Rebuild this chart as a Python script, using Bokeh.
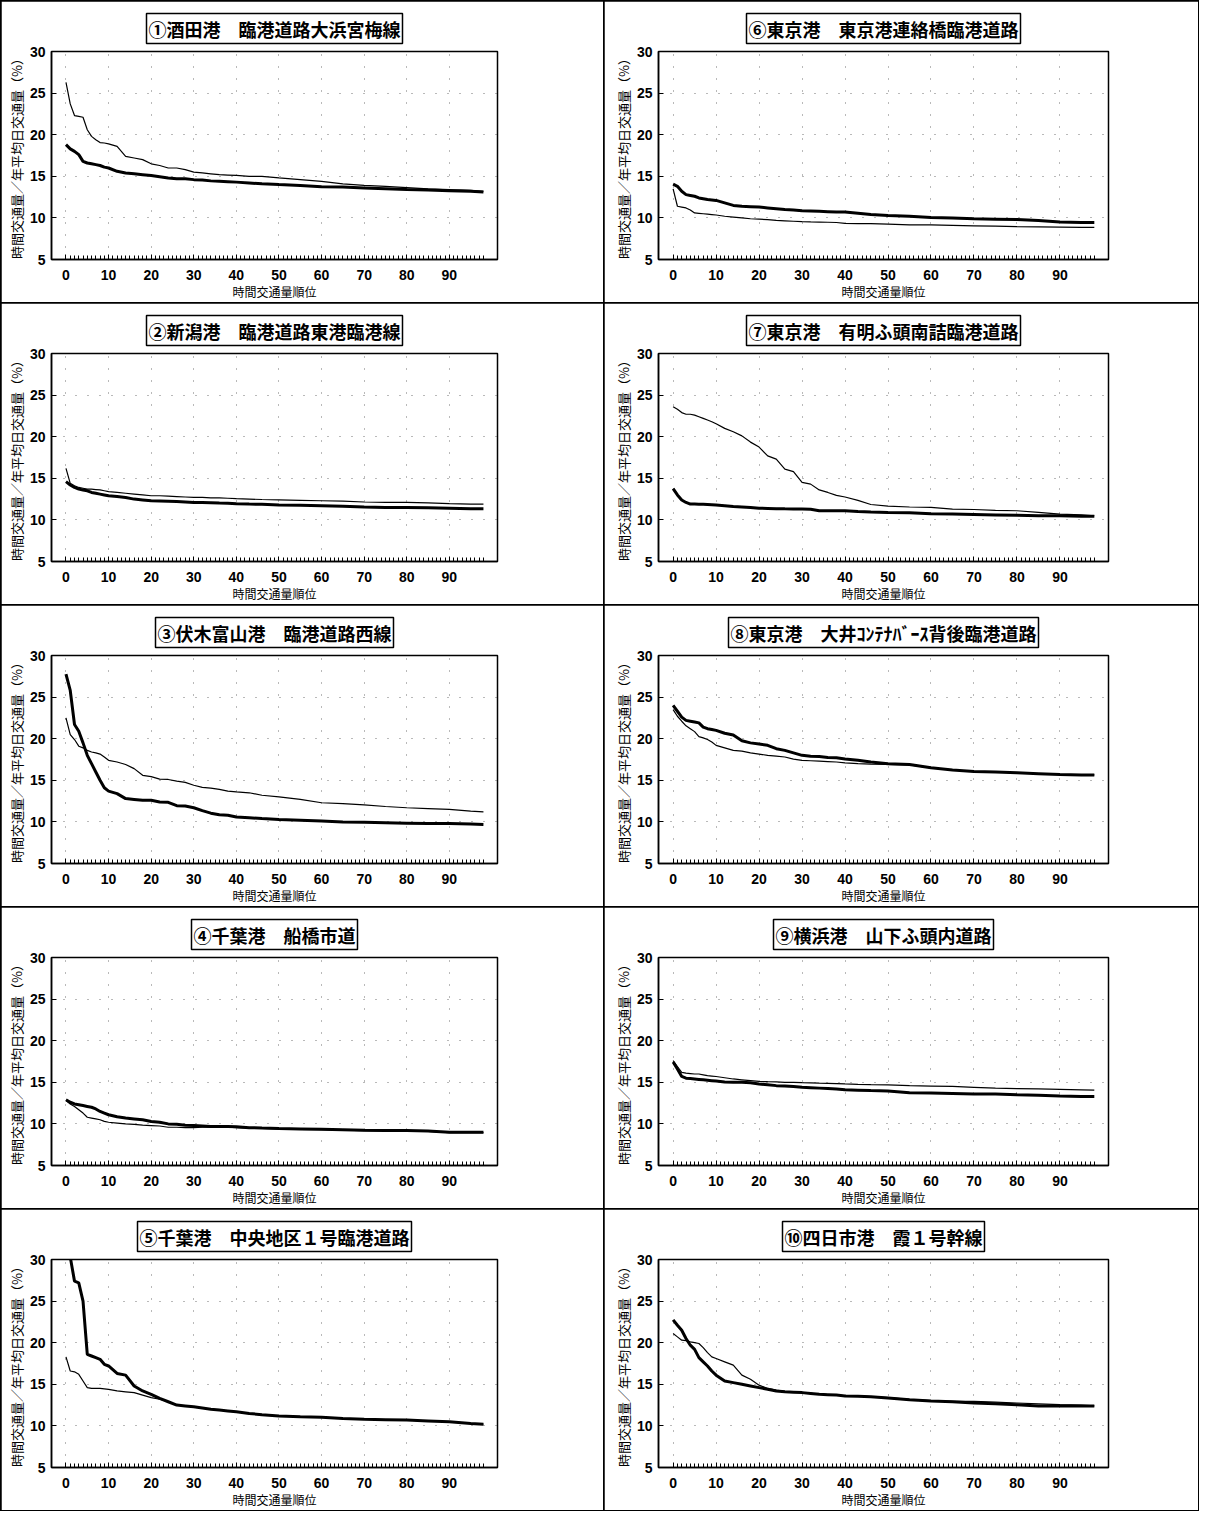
from bokeh.plotting import figure
from bokeh.layouts import row, column
from bokeh.models import FixedTicker, Title
from bokeh.embed import file_html
from bokeh.resources import INLINE

# 時間交通量順位 (rank) sampled positions
RANK = [0, 1, 2, 3, 4, 5, 6, 7, 8, 9, 10,
        12, 14, 16, 18, 20, 22, 24, 26, 28, 30, 32, 34, 36, 38, 40,
        43, 46, 50, 55, 60, 65, 70, 75, 80, 85, 90, 95, 98]

X_TICKS = [0, 10, 20, 30, 40, 50, 60, 70, 80, 90]
Y_TICKS = [5, 10, 15, 20, 25, 30]

TITLES = [
    "①酒田港　臨港道路大浜宮梅線",
    "②新潟港　臨港道路東港臨港線",
    "③伏木富山港　臨港道路西線",
    "④千葉港　船橋市道",
    "⑤千葉港　中央地区１号臨港道路",
    "⑥東京港　東京港連絡橋臨港道路",
    "⑦東京港　有明ふ頭南詰臨港道路",
    "⑧東京港　大井ｺﾝﾃﾅﾊﾞｰｽ背後臨港道路",
    "⑨横浜港　山下ふ頭内道路",
    "⑩四日市港　霞１号幹線",
]

THICK_1 = [18.8, 18.3, 18.0, 17.6, 16.8, 16.6, 16.5, 16.4, 16.3, 16.1, 16.0,
           15.6, 15.4, 15.3, 15.2, 15.1, 14.95, 14.8, 14.7, 14.7, 14.6, 14.55, 14.45, 14.4, 14.35, 14.3,
           14.2, 14.1, 14.0, 13.9, 13.75, 13.7, 13.6, 13.5, 13.4, 13.35, 13.25, 13.2, 13.1]
THIN_1 = [26.3, 23.7, 22.3, 22.2, 22.1, 20.6, 19.8, 19.4, 19.05, 19.0, 18.9,
          18.6, 17.4, 17.2, 17.0, 16.5, 16.3, 16.0, 16.0, 15.8, 15.5, 15.4, 15.3, 15.2, 15.15, 15.1,
          15.0, 15.0, 14.8, 14.6, 14.4, 14.1, 13.9, 13.8, 13.65, 13.5, 13.4, 13.3, 13.2]

THICK_2 = [14.6, 14.2, 13.9, 13.7, 13.6, 13.5, 13.3, 13.2, 13.1, 13.0, 12.9,
           12.8, 12.7, 12.5, 12.4, 12.3, 12.28, 12.25, 12.2, 12.15, 12.1, 12.08, 12.05, 12.02, 12.0, 11.95,
           11.9, 11.87, 11.8, 11.75, 11.7, 11.65, 11.55, 11.5, 11.5, 11.45, 11.4, 11.35, 11.35]
THIN_2 = [16.2, 14.4, 14.1, 13.9, 13.8, 13.7, 13.7, 13.65, 13.6, 13.5, 13.4,
          13.3, 13.2, 13.1, 13.0, 12.9, 12.9, 12.85, 12.8, 12.75, 12.7, 12.7, 12.65, 12.65, 12.6, 12.55,
          12.5, 12.45, 12.4, 12.35, 12.3, 12.25, 12.15, 12.1, 12.1, 12.05, 11.95, 11.9, 11.9]

THICK_3 = [27.75, 25.8, 21.7, 20.9, 19.5, 18.0, 17.0, 16.0, 15.0, 14.1, 13.7,
           13.4, 12.8, 12.7, 12.6, 12.6, 12.4, 12.35, 11.95, 11.9, 11.7, 11.35, 11.05, 10.85, 10.8, 10.6,
           10.5, 10.4, 10.3, 10.2, 10.1, 10.0, 9.95, 9.9, 9.85, 9.8, 9.8, 9.75, 9.7]
THIN_3 = [22.5, 20.5, 19.9, 19.1, 18.9, 18.6, 18.4, 18.3, 18.15, 17.8, 17.4,
          17.2, 16.9, 16.4, 15.6, 15.45, 15.15, 15.1, 14.9, 14.75, 14.4, 14.15, 14.05, 13.9, 13.7, 13.6,
          13.5, 13.2, 13.0, 12.7, 12.3, 12.2, 12.05, 11.85, 11.7, 11.6, 11.5, 11.3, 11.2]

THICK_4 = [12.9, 12.6, 12.4, 12.3, 12.2, 12.1, 12.0, 11.8, 11.5, 11.3, 11.1,
           10.85, 10.7, 10.6, 10.5, 10.3, 10.2, 10.0, 9.95, 9.85, 9.8, 9.75, 9.7, 9.7, 9.7, 9.65,
           9.55, 9.5, 9.45, 9.4, 9.35, 9.3, 9.25, 9.22, 9.2, 9.15, 9.0, 9.0, 9.0]
THIN_4 = [12.8, 12.4, 12.1, 11.7, 11.3, 10.8, 10.7, 10.6, 10.5, 10.3, 10.2,
          10.1, 10.0, 9.95, 9.85, 9.8, 9.75, 9.6, 9.6, 9.55, 9.55, 9.6, 9.6, 9.6, 9.6, 9.55,
          9.5, 9.45, 9.4, 9.35, 9.3, 9.25, 9.2, 9.17, 9.15, 9.1, 8.95, 8.95, 8.95]

THICK_5 = [31.0, 30.3, 27.4, 27.2, 25.0, 18.6, 18.4, 18.2, 18.0, 17.4, 17.2,
           16.3, 16.1, 14.8, 14.2, 13.8, 13.3, 12.9, 12.5, 12.4, 12.3, 12.15, 12.0, 11.9, 11.8, 11.7,
           11.5, 11.35, 11.2, 11.1, 11.05, 10.9, 10.8, 10.75, 10.7, 10.6, 10.5, 10.3, 10.2]
THIN_5 = [18.3, 16.6, 16.5, 16.2, 15.4, 14.6, 14.5, 14.5, 14.5, 14.45, 14.4,
          14.2, 14.1, 14.0, 13.7, 13.4, 13.2, 12.9, 12.5, 12.4, 12.3, 12.15, 12.0, 11.9, 11.8, 11.7,
          11.5, 11.35, 11.2, 11.1, 11.05, 10.9, 10.8, 10.75, 10.7, 10.6, 10.5, 10.3, 10.2]

THICK_6 = [14.05, 13.8, 13.2, 12.8, 12.7, 12.6, 12.4, 12.3, 12.2, 12.15, 12.1,
           11.8, 11.5, 11.4, 11.35, 11.3, 11.2, 11.1, 11.0, 10.95, 10.85, 10.83, 10.8, 10.75, 10.7, 10.7,
           10.55, 10.4, 10.3, 10.2, 10.05, 10.0, 9.9, 9.85, 9.8, 9.7, 9.5, 9.45, 9.45]
THIN_6 = [13.5, 11.4, 11.3, 11.2, 10.95, 10.6, 10.55, 10.5, 10.45, 10.4, 10.35,
          10.2, 10.1, 10.0, 9.9, 9.85, 9.8, 9.7, 9.65, 9.6, 9.55, 9.52, 9.5, 9.48, 9.45, 9.35,
          9.32, 9.3, 9.25, 9.15, 9.15, 9.1, 9.05, 9.0, 8.95, 8.93, 8.9, 8.85, 8.85]

THICK_7 = [13.75, 13.0, 12.4, 12.1, 11.9, 11.9, 11.88, 11.87, 11.85, 11.83, 11.8,
           11.7, 11.6, 11.55, 11.5, 11.4, 11.38, 11.35, 11.33, 11.32, 11.3, 11.28, 11.1, 11.1, 11.1, 11.1,
           11.0, 10.95, 10.9, 10.85, 10.75, 10.7, 10.65, 10.6, 10.55, 10.5, 10.5, 10.45, 10.45]
THIN_7 = [23.6, 23.3, 22.9, 22.7, 22.7, 22.6, 22.4, 22.2, 22.0, 21.8, 21.55,
          21.0, 20.6, 20.1, 19.35, 18.75, 17.7, 17.3, 16.1, 15.8, 14.5, 14.3, 13.6, 13.3, 12.95, 12.75,
          12.35, 11.85, 11.65, 11.55, 11.5, 11.3, 11.25, 11.15, 11.1, 10.9, 10.7, 10.6, 10.5]

THICK_8 = [24.0, 23.3, 22.6, 22.2, 22.1, 22.0, 21.9, 21.4, 21.2, 21.1, 21.0,
           20.65, 20.45, 19.75, 19.5, 19.35, 19.2, 18.8, 18.6, 18.3, 18.0, 17.9, 17.85, 17.75, 17.7, 17.55,
           17.4, 17.2, 17.0, 16.9, 16.5, 16.25, 16.05, 16.0, 15.9, 15.8, 15.7, 15.65, 15.65]
THIN_8 = [23.5, 22.7, 22.1, 21.55, 21.2, 20.85, 20.25, 20.1, 19.9, 19.6, 19.2,
          18.9, 18.6, 18.5, 18.3, 18.15, 18.0, 17.9, 17.8, 17.55, 17.4, 17.35, 17.3, 17.25, 17.2, 17.1,
          17.0, 16.95, 16.9, 16.85, 16.5, 16.25, 16.05, 16.0, 15.9, 15.8, 15.7, 15.65, 15.65]

THICK_9 = [17.45, 16.6, 15.7, 15.5, 15.45, 15.4, 15.35, 15.3, 15.25, 15.2, 15.15,
           15.05, 15.0, 15.0, 14.95, 14.8, 14.7, 14.6, 14.55, 14.5, 14.4, 14.35, 14.3, 14.25, 14.2, 14.1,
           14.05, 14.0, 13.95, 13.75, 13.7, 13.65, 13.6, 13.6, 13.5, 13.45, 13.35, 13.3, 13.3]
THIN_9 = [17.6, 16.9, 16.2, 16.1, 16.05, 16.0, 16.0, 15.9, 15.8, 15.75, 15.7,
          15.55, 15.4, 15.3, 15.2, 15.1, 15.07, 15.05, 15.0, 14.98, 14.95, 14.93, 14.9, 14.88, 14.85, 14.8,
          14.75, 14.72, 14.7, 14.6, 14.55, 14.5, 14.4, 14.3, 14.25, 14.2, 14.15, 14.1, 14.05]

THICK_10 = [22.75, 22.1, 21.5, 20.5, 19.7, 19.2, 18.2, 17.7, 17.2, 16.6, 16.1,
            15.4, 15.2, 15.0, 14.8, 14.6, 14.4, 14.2, 14.1, 14.05, 14.0, 13.9, 13.8, 13.75, 13.7, 13.6,
            13.55, 13.5, 13.35, 13.15, 13.0, 12.9, 12.75, 12.65, 12.55, 12.4, 12.4, 12.4, 12.4]
THIN_10 = [21.1, 20.7, 20.3, 20.25, 20.1, 20.0, 19.9, 19.4, 18.8, 18.3, 18.1,
           17.7, 17.3, 16.1, 15.6, 14.9, 14.5, 14.3, 14.15, 14.08, 14.02, 13.92, 13.82, 13.77, 13.72, 13.62,
           13.57, 13.52, 13.4, 13.2, 13.05, 12.95, 12.95, 12.85, 12.75, 12.65, 12.55, 12.5, 12.4]

THICK = [THICK_1, THICK_2, THICK_3, THICK_4, THICK_5, THICK_6, THICK_7, THICK_8, THICK_9, THICK_10]
THIN = [THIN_1, THIN_2, THIN_3, THIN_4, THIN_5, THIN_6, THIN_7, THIN_8, THIN_9, THIN_10]

JP = "Noto Sans CJK JP"
NUM = "Liberation Sans"
PANEL_H = 301


def make_panel(i, width, left, right):
    p = figure(width=width, height=PANEL_H, x_range=(-3.4, 101.3), y_range=(5, 30),
               output_backend="svg", toolbar_location=None,
               min_border_left=left, min_border_right=right,
               min_border_top=50, min_border_bottom=42,
               background_fill_color="white", border_fill_color="white")
    title_kw = dict(text=TITLES[i], align="center", text_font=JP, text_font_size="18px",
                    text_font_style="bold", text_color="black",
                    border_line_color="black", border_line_width=1.5,
                    background_fill_color="white", standoff=16)
    if "padding" in Title.properties():
        title_kw["padding"] = 2
    p.title = Title(**title_kw)
    p.outline_line_color = "black"
    p.outline_line_width = 1.5

    p.xaxis.ticker = FixedTicker(ticks=X_TICKS, minor_ticks=list(range(0, 99)))
    p.yaxis.ticker = FixedTicker(ticks=Y_TICKS)
    for ax in (p.xaxis, p.yaxis):
        ax.axis_line_color = "black"
        ax.axis_line_width = 1.5
        ax.major_tick_in = 5
        ax.major_tick_out = 0
        ax.major_label_text_font = NUM
        ax.major_label_text_font_style = "bold"
        ax.major_label_text_font_size = "14px"
        ax.major_label_text_color = "black"
        ax.axis_label_text_font = JP
        ax.axis_label_text_font_style = "normal"
        ax.axis_label_text_color = "black"
    p.xaxis.minor_tick_in = 4
    p.xaxis.minor_tick_out = 0
    p.yaxis.minor_tick_in = 0
    p.yaxis.minor_tick_out = 0
    p.xaxis.major_label_standoff = 10
    p.yaxis.major_label_standoff = 6
    p.xaxis.axis_label = "時間交通量順位"
    p.xaxis.axis_label_text_font_size = "12px"
    p.xaxis.axis_label_standoff = 0
    p.yaxis.axis_label = "時間交通量／年平均日交通量（%）"
    p.yaxis.axis_label_text_font_size = "13px"
    p.yaxis.axis_label_standoff = 1

    p.xgrid.ticker = FixedTicker(ticks=X_TICKS)
    p.ygrid.ticker = FixedTicker(ticks=Y_TICKS)
    for g in (p.xgrid, p.ygrid):
        g.grid_line_color = "black"
        g.grid_line_alpha = 0.55
        g.grid_line_dash = "1 11"
        g.grid_line_width = 1

    p.line(RANK, THIN[i], line_color="black", line_width=1.2)
    p.line(RANK, THICK[i], line_color="black", line_width=3)
    return p


rows = []
for r in range(5):
    left_fig = make_panel(r, 602, 50, 106)
    right_fig = make_panel(r + 5, 594, 54, 90)
    rows.append(row(left_fig, right_fig, spacing=1))

layout = column(*rows, spacing=1,
                styles={"background-color": "black", "padding": "1px"})

open("out.html", "w").write(file_html(layout, INLINE))
